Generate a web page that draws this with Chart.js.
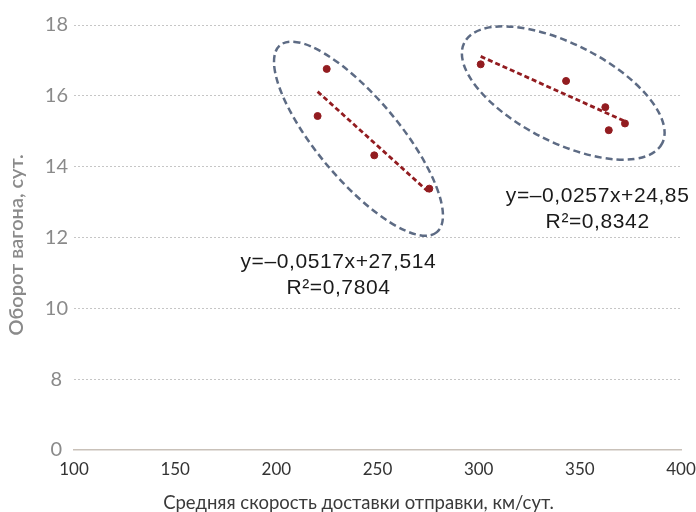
<!DOCTYPE html>
<html>
<head>
<meta charset="utf-8">
<script src="https://cdn.jsdelivr.net/npm/chart.js@4"></script>
<style>
  body { margin:0; background:#fff; }
  #wrap { width:696px; height:512px; }
</style>
</head>
<body>
<div id="wrap"><canvas id="chart" width="696" height="512"></canvas></div>
<script>
// данные кластеров (скорость доставки, оборот вагона)
const groupAX = [220.4, 224.9, 248.4, 275.6];
const groupAY = [15.43, 16.76, 14.32, 13.38];
const groupBX = [301.0, 343.2, 362.6, 364.3, 372.3];
const groupBY = [16.89, 16.42, 15.68, 15.03, 15.22];

// линии тренда: y = k*x + b
const trendK = [-0.0517, -0.0257];
const trendB = [27.514, 24.85];
const trendText = [
  ['y=–0,0517x+27,514', 'R²=0,7804'],
  ['y=–0,0257x+24,85', 'R²=0,8342']
];

const xTicks = [100, 150, 200, 250, 300, 350, 400];
const yTicks = [6, 8, 10, 12, 14, 16, 18];
const yTickLabels = ['0', '8', '10', '12', '14', '16', '18'];

const NB = '\u00a0';
const xTitle = 'Средняя скорость доставки отправки, км/сут.' + NB.repeat(8);
const yTitle = 'Оборот вагона, сут.' + NB.repeat(3);

// оформление подписей и эллипсов (в единицах осей + пиксели)
const notes = [
  { x: 230.7, y: 10.94, lines: trendText[0] },
  { x: 358.8, y: 12.80, lines: trendText[1] }
];
const rings = [
  { x: 240.6, y: 14.79, rx: 122, ry: 41, angle: 50 },
  { x: 341.8, y: 16.08, rx: 111, ry: 49, angle: 27 }
];

const RED = '#921c20';
const FONT = 'Lato, "Noto Sans", sans-serif';
const NOTE_FONT = '"Liberation Sans", Arial, sans-serif';

function pts(xs, ys){ return xs.map((x, i) => ({ x, y: ys[i] })); }
function trend(xs, i){
  const a = Math.min(...xs), b = Math.max(...xs);
  return [a, b].map(x => ({ x, y: trendK[i] * x + trendB[i] }));
}

const extras = {
  id: 'extras',
  afterDatasetsDraw(chart){
    const { ctx, scales: { x, y } } = chart;
    ctx.save();
    ctx.strokeStyle = '#5d6b84';
    ctx.lineWidth = 2.5;
    ctx.setLineDash([7, 4]);
    for (const r of rings){
      ctx.beginPath();
      ctx.ellipse(x.getPixelForValue(r.x), y.getPixelForValue(r.y), r.rx, r.ry, r.angle * Math.PI / 180, 0, Math.PI * 2);
      ctx.stroke();
    }
    ctx.setLineDash([]);
    ctx.fillStyle = '#1a1a1a';
    ctx.font = '21px ' + NOTE_FONT;
    ctx.letterSpacing = '0.6px';
    ctx.textAlign = 'center';
    ctx.textBaseline = 'middle';
    for (const n of notes){
      const px = x.getPixelForValue(n.x), py = y.getPixelForValue(n.y);
      n.lines.forEach((t, i) => ctx.fillText(t, px, py + (i - 0.5) * 26));
    }
    ctx.restore();
  }
};

new Chart(document.getElementById('chart'), {
  type: 'scatter',
  data: {
    datasets: [
      { data: pts(groupAX, groupAY), backgroundColor: RED, borderColor: RED, pointRadius: 3.5 },
      { data: pts(groupBX, groupBY), backgroundColor: RED, borderColor: RED, pointRadius: 3.5 },
      { data: trend(groupAX, 0), showLine: true, borderColor: RED, borderWidth: 2.8, borderDash: [5, 3], pointRadius: 0 },
      { data: trend(groupBX, 1), showLine: true, borderColor: RED, borderWidth: 2.8, borderDash: [5, 3], pointRadius: 0 }
    ]
  },
  options: {
    responsive: false,
    animation: false,
    layout: { padding: { left: 0, right: 15, top: 25, bottom: 0 } },
    plugins: { legend: { display: false }, tooltip: { enabled: false } },
    scales: {
      x: {
        type: 'linear', min: 100, max: 400,
        afterBuildTicks: s => { s.ticks = xTicks.map(v => ({ value: v })); },
        afterFit: s => { s.height = 62; s.paddingLeft = 0; s.paddingRight = 0; },
        grid: { display: false, drawTicks: false, tickLength: 0 },
        border: { display: true, color: '#c9c1b9', width: 1.5 },
        ticks: { color: '#333', font: { family: FONT, size: 17 }, padding: 9, maxRotation: 0 },
        title: { display: true, text: xTitle, color: '#3a3a3a', font: { family: FONT, size: 18.5, lineHeight: 1 }, padding: { top: 0, bottom: 0 } }
      },
      y: {
        type: 'linear', min: 6, max: 18,
        afterBuildTicks: s => { s.ticks = yTicks.map(v => ({ value: v })); },
        afterFit: s => { s.width = 74; s.paddingTop = 0; s.paddingBottom = 0; },
        grid: { drawTicks: false, tickLength: 0, color: c => c.tick && c.tick.value === 6 ? 'rgba(0,0,0,0)' : '#c6c6c6' },
        border: { display: false, dash: [2, 2] },
        ticks: {
          color: '#8a8a8a', font: { family: FONT, size: 20 }, padding: 6, crossAlign: 'center',
          callback: v => yTickLabels[yTicks.indexOf(v)]
        },
        title: { display: true, text: yTitle, color: '#8a8a8a', font: { family: FONT, size: 20, weight: '600' }, padding: { top: 5, bottom: 0 } }
      }
    }
  },
  plugins: [extras]
});
</script>
</body>
</html>
